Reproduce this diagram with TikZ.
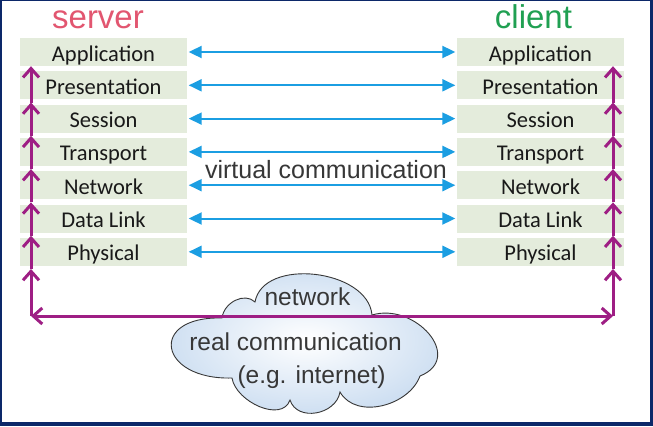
\documentclass[tikz,border=0pt]{standalone}
\usepackage{fontspec}
\setmainfont{Liberation Sans}
\newfontfamily\layerfont{Carlito}
\usetikzlibrary{arrows.meta}
\definecolor{framenavy}{RGB}{12,40,105}
\definecolor{boxgreen}{RGB}{228,236,220}
\definecolor{layertext}{RGB}{25,25,25}
\definecolor{arrowblue}{RGB}{27,158,226}
\definecolor{realpurple}{RGB}{158,30,132}
\definecolor{serverred}{RGB}{226,86,112}
\definecolor{clientgreen}{RGB}{32,160,82}
\definecolor{cloudblue}{RGB}{200,219,240}
\definecolor{labelgray}{RGB}{55,55,55}

\begin{document}
\begin{tikzpicture}[x=1pt,y=-1pt,
	layer/.style={fill=boxgreen,minimum width=167pt,minimum height=28pt,inner sep=0pt,
		text height=18pt,text depth=0pt,text=layertext,font=\layerfont\fontsize{22.5pt}{26pt}\selectfont},
	virtline/.style={>={Triangle[length=13pt,width=12pt]},<->,line width=2pt,arrowblue,
		shorten <=1.5pt,shorten >=1.5pt},
	realline/.style={>={Straight Barb[length=9pt,width=16pt]},line width=3pt,realpurple},
	netlabel/.style={anchor=base,text=labelgray,font=\fontsize{24.5pt}{28pt}\selectfont}]
		\useasboundingbox (0,0) rectangle (653,426);
		\fill[framenavy] (0,0) rectangle (653,426);
		\fill[white] (2,1) rectangle (650,422);
		% the two stacks
		\node[layer] (s1) at (103.5,52) {Application};
		\node[layer] (s2) at (103.5,85.3) {Presentation};
		\node[layer] (s3) at (103.5,118.6) {Session};
		\node[layer] (s4) at (103.5,151.9) {Transport};
		\node[layer] (s5) at (103.5,185.2) {Network};
		\node[layer] (s6) at (103.5,218.5) {Data Link};
		\node[layer] (s7) at (103.5,251.8) {Physical};
		\node[layer] (c1) at (540.5,52) {Application};
		\node[layer] (c2) at (540.5,85.3) {Presentation};
		\node[layer] (c3) at (540.5,118.6) {Session};
		\node[layer] (c4) at (540.5,151.9) {Transport};
		\node[layer] (c5) at (540.5,185.2) {Network};
		\node[layer] (c6) at (540.5,218.5) {Data Link};
		\node[layer] (c7) at (540.5,251.8) {Physical};
		\node[anchor=base,text=serverred,font=\fontsize{33pt}{36pt}\selectfont] (server) at (98,28) {server};
		\node[anchor=base,text=clientgreen,font=\fontsize{33pt}{36pt}\selectfont] (client) at (533.5,28) {client};
		% virtual communication
		\draw[virtline] (s1) -- (c1);
		\draw[virtline] (s2) -- (c2);
		\draw[virtline] (s3) -- (c3);
		\draw[virtline] (s4) -- (c4);
		\draw[virtline] (s5) -- (c5);
		\draw[virtline] (s6) -- (c6);
		\draw[virtline] (s7) -- (c7);
		\node[anchor=base,text=labelgray,font=\fontsize{25pt}{28pt}\selectfont] (virt) at (326,178) {virtual communication};
		% cloud
		\shade[inner color=white,outer color=cloudblue,draw=labelgray,line width=0.9pt]
			(255,302) .. controls (263,257) and (368,269) .. (372,315)
			.. controls (415,302) and (465,358) .. (420,376)
			.. controls (409,406) and (356,420) .. (340,392)
			.. controls (336,415) and (297,422) .. (290,400)
			.. controls (282,423) and (236,402) .. (232,378)
			.. controls (158,380) and (148,316) .. (222,318)
			.. controls (224,302) and (245,292) .. (255,302) -- cycle;
		\node[netlabel] (net) at (307.5,305) {network};
		\node[netlabel] (real) at (295.5,350) {real communication};
		\node[netlabel] (inet) at (311.5,383) {(e.g. internet)};
		% real communication
		\coordinate (sbase) at (31,316);
		\coordinate (cbase) at (613,316);
		\draw[realline,<->] (sbase) -- (cbase);
		\draw[realline,->] (sbase) -- ([yshift=-3pt]s7.south -| sbase);
		\draw[realline,->] ([yshift=-3pt]s7.south -| sbase) -- ([yshift=-3pt]s6.south -| sbase);
		\draw[realline,->] ([yshift=-3pt]s6.south -| sbase) -- ([yshift=-3pt]s5.south -| sbase);
		\draw[realline,->] ([yshift=-3pt]s5.south -| sbase) -- ([yshift=-3pt]s4.south -| sbase);
		\draw[realline,->] ([yshift=-3pt]s4.south -| sbase) -- ([yshift=-3pt]s3.south -| sbase);
		\draw[realline,->] ([yshift=-3pt]s3.south -| sbase) -- ([yshift=-3pt]s2.south -| sbase);
		\draw[realline,->] ([yshift=-3pt]s2.south -| sbase) -- (s1.south -| sbase);
		\draw[realline,->] (cbase) -- ([yshift=-3pt]c7.south -| cbase);
		\draw[realline,->] ([yshift=-3pt]c7.south -| cbase) -- ([yshift=-3pt]c6.south -| cbase);
		\draw[realline,->] ([yshift=-3pt]c6.south -| cbase) -- ([yshift=-3pt]c5.south -| cbase);
		\draw[realline,->] ([yshift=-3pt]c5.south -| cbase) -- ([yshift=-3pt]c4.south -| cbase);
		\draw[realline,->] ([yshift=-3pt]c4.south -| cbase) -- ([yshift=-3pt]c3.south -| cbase);
		\draw[realline,->] ([yshift=-3pt]c3.south -| cbase) -- ([yshift=-3pt]c2.south -| cbase);
		\draw[realline,->] ([yshift=-3pt]c2.south -| cbase) -- (c1.south -| cbase);
	\end{tikzpicture}
\end{document}
